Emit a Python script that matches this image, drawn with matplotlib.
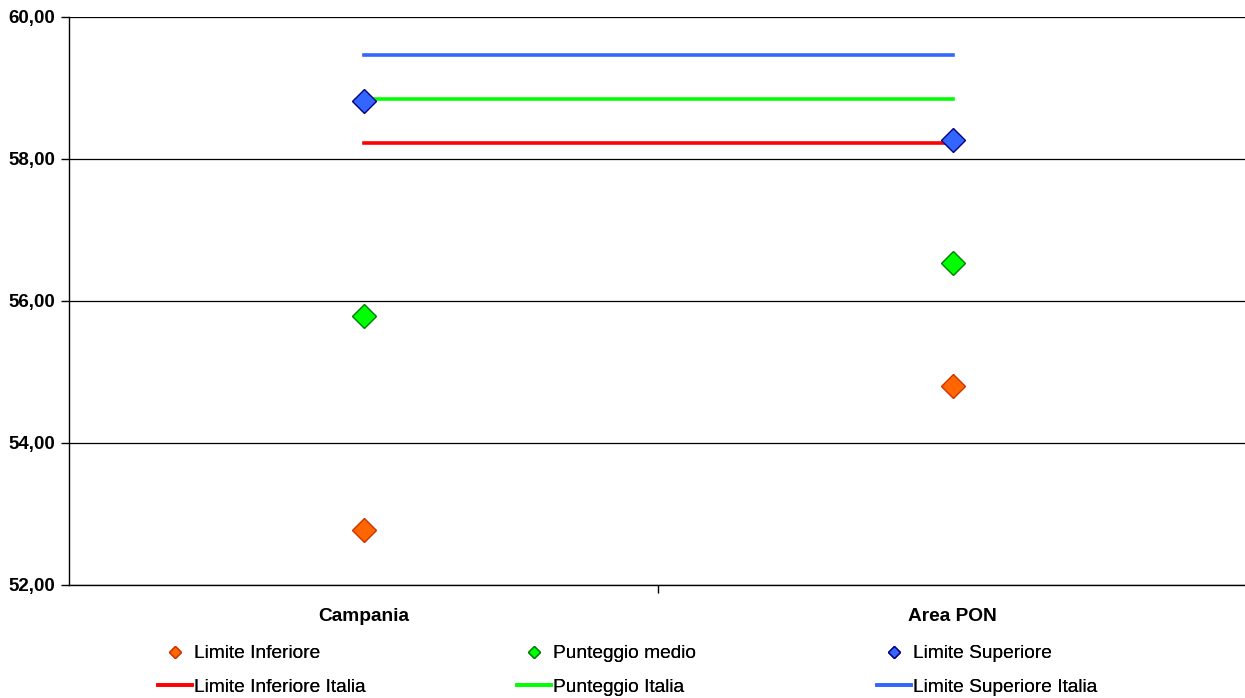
import matplotlib
matplotlib.use("Agg")
import matplotlib.pyplot as plt
from matplotlib.ticker import FixedLocator, FuncFormatter

plt.rcParams['font.family'] = ['Liberation Sans', 'DejaVu Sans']

categories = ["Campania", "Area PON"]
limite_inferiore = [52.78, 54.80]
punteggio_medio = [55.79, 56.54]
limite_superiore = [58.82, 58.27]
italia_inferiore = 58.23
italia_medio = 58.85
italia_superiore = 59.46
y_ticks = [52, 54, 56, 58, 60]

fig = plt.figure(figsize=(12.45, 6.98), dpi=100)
ax = fig.add_axes([69/1245, 1-585/698, (1247-69)/1245, (585-17)/698])

x = list(range(len(categories)))
ax.set_xlim(-0.5, len(categories) - 0.5)
ax.set_ylim(52, 60)

for yv in y_ticks:
    ax.axhline(yv, color='black', lw=0.9, zorder=1)

h_li_it, = ax.plot(x, [italia_inferiore]*2, color='#FF0000', lw=2.6, zorder=2)
h_pm_it, = ax.plot(x, [italia_medio]*2, color='#00FF00', lw=2.6, zorder=2)
h_ls_it, = ax.plot(x, [italia_superiore]*2, color='#3366FF', lw=2.6, zorder=2)

ms = 12.2
h_li, = ax.plot(x, limite_inferiore, ls='none', marker='D', ms=ms, mfc='#FF6600', mec='#CC3300', mew=1.0, zorder=3)
h_pm, = ax.plot(x, punteggio_medio, ls='none', marker='D', ms=ms, mfc='#00FF00', mec='#008000', mew=1.0, zorder=3)
h_ls, = ax.plot(x, limite_superiore, ls='none', marker='D', ms=ms, mfc='#3366FF', mec='#000080', mew=1.0, zorder=3)

for s in ['top', 'right']:
    ax.spines[s].set_visible(False)
ax.spines['left'].set_linewidth(1.0)
ax.spines['bottom'].set_linewidth(1.0)

ax.yaxis.set_major_locator(FixedLocator(y_ticks))
ax.yaxis.set_major_formatter(FuncFormatter(lambda v, p: f"{v:.2f}".replace('.', ',')))
ax.tick_params(axis='y', direction='out', length=6, width=1, labelsize=13.5, pad=4)
for lab in ax.get_yticklabels():
    lab.set_fontweight('bold')

ax.set_xticks([0.5])
ax.set_xticklabels([''])
ax.tick_params(axis='x', direction='out', length=6, width=1)
for xi, c in zip(x, categories):
    ax.text(xi, -0.0555, c, transform=ax.get_xaxis_transform(), ha='center', va='center',
            fontsize=13.8, fontweight='bold')

columns = [
    ([h_li, h_li_it], ["Limite Inferiore", "Limite Inferiore Italia"], 158),
    ([h_pm, h_pm_it], ["Punteggio medio", "Punteggio Italia"], 517),
    ([h_ls, h_ls_it], ["Limite Superiore", "Limite Superiore Italia"], 877),
]
for hs, ls_, xpx in columns:
    leg = fig.legend(hs, ls_, loc='upper left', bbox_to_anchor=(xpx/1245, 1-645/698),
                     frameon=False, fontsize=13.8, markerscale=0.5, handlelength=1.75,
                     handletextpad=0.15, labelspacing=0.82, borderpad=0, borderaxespad=0)
    fig.add_artist(leg)

fig.savefig("out.png", dpi=100)
